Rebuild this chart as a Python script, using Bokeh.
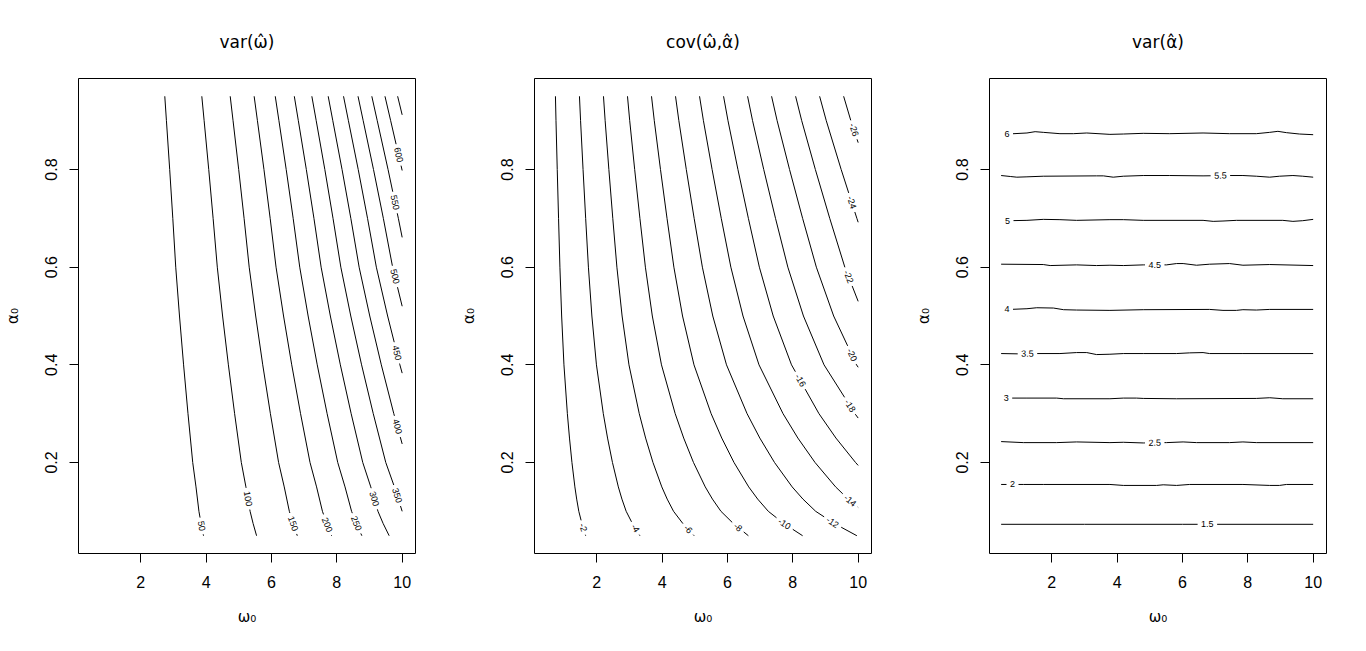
import math
from bokeh.plotting import figure
from bokeh.layouts import row
from bokeh.models import Range1d, FixedTicker
from bokeh.embed import file_html
from bokeh.resources import INLINE
from bokeh.core.properties import value

# ---------------- data ----------------
x_ticks = [2, 4, 6, 8, 10]
y_ticks = [0.2, 0.4, 0.6, 0.8]

titles = ["var(\u03c9\u0302)", "cov(\u03c9\u0302,\u03b1\u0302)", "var(\u03b1\u0302)"]
x_label = "\u03c9\u2080"
y_label = "\u03b1\u2080"

# Panel 1: var(omega-hat) contours (omega0 along alpha0)
vw_levels = ["50", "100", "150", "200", "250", "300", "350", "400", "450", "500", "550", "600", "650"]
vw_grid = [0.95, 0.9, 0.8, 0.7, 0.6, 0.5, 0.4, 0.3, 0.2, 0.15, 0.1, 0.075, 0.05]
vw_omega = [
    [2.735, 2.785, 2.885, 2.98, 3.07, 3.185, 3.31, 3.445, 3.59, 3.69, 3.78, 3.845, 3.92],
    [3.868, 3.939, 4.080, 4.214, 4.342, 4.504, 4.681, 4.872, 5.077, 5.218, 5.346, 5.438, 5.544],
    [4.737, 4.824, 4.997, 5.162, 5.318, 5.517, 5.733, 5.967, 6.218, 6.391, 6.547, 6.660, 6.790],
    [5.47, 5.57, 5.77, 5.96, 6.14, 6.37, 6.62, 6.89, 7.18, 7.38, 7.56, 7.69, 7.84],
    [6.116, 6.228, 6.451, 6.664, 6.865, 7.122, 7.401, 7.703, 8.028, 8.251, 8.452, 8.598, 8.766],
    [6.699, 6.822, 7.067, 7.300, 7.520, 7.802, 8.108, 8.439, 8.794, 9.039, 9.259, 9.418, 9.602],
    [7.236, 7.369, 7.633, 7.884, 8.123, 8.427, 8.758, 9.115, 9.498, 9.763, 10.0],
    [7.736, 7.877, 8.160, 8.429, 8.683, 9.008, 9.362, 9.744, 10.0],
    [8.205, 8.355, 8.655, 8.94, 9.21, 9.555, 9.93, 10.0],
    [8.649, 8.807, 9.123, 9.424, 9.708, 10.0],
    [9.071, 9.237, 9.568, 9.883, 10.0],
    [9.474, 9.648, 10.0],
    [9.861, 10.0],
]
vw_alpha = [
    vw_grid, vw_grid, vw_grid, vw_grid, vw_grid, vw_grid,
    vw_grid[:10] + [0.1],
    vw_grid[:8] + [0.238],
    vw_grid[:7] + [0.383],
    vw_grid[:5] + [0.52],
    vw_grid[:4] + [0.661],
    [0.95, 0.9, 0.798],
    [0.95, 0.912],
]
vw_lab_x = [3.79, 5.21, 6.62, 7.69, 8.55, 9.11, 9.83, 9.81, 9.81, 9.78, 9.75, 9.83, None]
vw_lab_y = [0.069, 0.125, 0.074, 0.072, 0.074, 0.125, 0.132, 0.273, 0.424, 0.581, 0.732, 0.829, None]

# Panel 2: cov(omega-hat, alpha-hat) contours
cv_levels = ["-2", "-4", "-6", "-8", "-10", "-12", "-14", "-16", "-18", "-20", "-22", "-24", "-26"]
cv_grid = [0.95, 0.9, 0.8, 0.7, 0.6, 0.5, 0.4, 0.3, 0.25, 0.2, 0.15, 0.125, 0.1, 0.075, 0.05]
cv_omega = [
    [0.735, 0.752, 0.79, 0.83, 0.872, 0.925, 0.995, 1.10, 1.165, 1.24, 1.33, 1.385, 1.45, 1.545, 1.66],
    [1.47, 1.504, 1.58, 1.66, 1.744, 1.85, 1.99, 2.2, 2.33, 2.48, 2.66, 2.77, 2.9, 3.09, 3.32],
    [2.205, 2.256, 2.37, 2.49, 2.616, 2.775, 2.985, 3.3, 3.495, 3.72, 3.99, 4.155, 4.35, 4.635, 4.98],
    [2.94, 3.008, 3.16, 3.32, 3.488, 3.7, 3.98, 4.4, 4.66, 4.96, 5.32, 5.54, 5.8, 6.18, 6.64],
    [3.675, 3.76, 3.95, 4.15, 4.36, 4.625, 4.975, 5.5, 5.825, 6.2, 6.65, 6.925, 7.25, 7.725, 8.3],
    [4.41, 4.512, 4.74, 4.98, 5.232, 5.55, 5.97, 6.6, 6.99, 7.44, 7.98, 8.31, 8.7, 9.27, 9.96],
    [5.145, 5.264, 5.53, 5.81, 6.104, 6.475, 6.965, 7.7, 8.155, 8.68, 9.31, 9.695, 10.0],
    [5.88, 6.016, 6.32, 6.64, 6.976, 7.4, 7.96, 8.8, 9.32, 9.92, 10.0],
    [6.615, 6.768, 7.11, 7.47, 7.848, 8.325, 8.955, 9.9, 10.0],
    [7.35, 7.52, 7.9, 8.3, 8.72, 9.25, 9.95, 10.0],
    [8.085, 8.272, 8.69, 9.13, 9.592, 10.0],
    [8.82, 9.024, 9.48, 9.96, 10.0],
    [9.555, 9.776, 10.0],
]
cv_alpha = [
    cv_grid, cv_grid, cv_grid, cv_grid, cv_grid, cv_grid,
    cv_grid[:12] + [0.108],
    cv_grid[:10] + [0.194],
    cv_grid[:8] + [0.291],
    cv_grid[:7] + [0.395],
    cv_grid[:5] + [0.53],
    cv_grid[:4] + [0.692],
    [0.95, 0.9, 0.855],
]
cv_lab_x = [1.50, 3.15, 4.78, 6.29, 7.74, 9.22, 9.755, 8.20, 9.72, 9.83, 9.72, 9.78, 9.81]
cv_lab_y = [0.065, 0.064, 0.0625, 0.065, 0.074, 0.078, 0.122, 0.367, 0.315, 0.421, 0.581, 0.732, 0.880]

# Panel 3: var(alpha-hat) contours (nearly flat, slightly wavy)
va_levels = ["6", "5.5", "5", "4.5", "4", "3.5", "3", "2.5", "2", "1.5"]
va_omega = [
    [0.45, 0.73, 1.24, 1.49, 1.74, 2.25, 2.66, 3.07, 3.78, 4.19, 4.80, 5.61, 6.63, 7.44, 8.26, 8.67, 8.92, 9.18, 9.58, 10.0],
    [0.45, 0.73, 0.93, 1.24, 1.74, 3.37, 3.58, 3.88, 4.19, 4.80, 5.61, 6.63, 7.44, 7.85, 8.26, 8.67, 8.97, 9.38, 9.68, 10.0],
    [0.45, 0.73, 1.24, 1.74, 2.25, 2.76, 3.78, 4.19, 4.80, 6.63, 6.94, 7.24, 7.65, 9.07, 9.38, 9.68, 10.0],
    [0.45, 1.74, 1.95, 2.76, 3.37, 3.78, 4.19, 4.80, 5.51, 5.82, 6.02, 6.43, 6.83, 7.44, 7.85, 8.67, 10.0],
    [0.45, 0.73, 1.24, 1.54, 2.05, 2.36, 2.76, 3.78, 4.80, 6.83, 7.24, 7.65, 7.85, 8.26, 8.67, 10.0],
    [0.45, 1.03, 1.49, 2.25, 2.76, 3.07, 3.37, 3.78, 4.19, 4.80, 5.82, 6.22, 6.63, 6.83, 7.85, 10.0],
    [0.45, 0.73, 1.24, 2.15, 2.36, 3.78, 4.19, 4.59, 4.80, 5.82, 8.26, 8.67, 9.07, 10.0],
    [0.45, 1.13, 2.15, 2.76, 3.78, 4.19, 4.80, 5.51, 6.02, 6.43, 7.44, 7.85, 8.26, 10.0],
    [0.45, 1.13, 1.74, 3.78, 4.19, 5.21, 5.41, 5.82, 6.22, 7.85, 8.67, 8.97, 9.18, 10.0],
    [0.45, 3.0, 6.0, 10.0],
]
va_alpha = [
    [0.873, 0.873, 0.8748, 0.8775, 0.8761, 0.8734, 0.8734, 0.8748, 0.872, 0.8727, 0.8741, 0.8734, 0.8748, 0.8734, 0.8734, 0.8761, 0.8782, 0.8755, 0.8727, 0.8713],
    [0.7877, 0.7857, 0.7843, 0.785, 0.7863, 0.787, 0.787, 0.7843, 0.7863, 0.7877, 0.7877, 0.787, 0.7877, 0.7877, 0.7863, 0.7843, 0.7863, 0.7877, 0.7863, 0.7843],
    [0.6952, 0.6952, 0.6959, 0.6979, 0.6973, 0.6959, 0.6973, 0.6973, 0.6959, 0.6959, 0.6938, 0.6945, 0.6959, 0.6959, 0.6938, 0.6952, 0.6979],
    [0.6061, 0.6054, 0.6033, 0.6047, 0.6033, 0.604, 0.6033, 0.6047, 0.6047, 0.6074, 0.6074, 0.604, 0.6061, 0.6074, 0.604, 0.6054, 0.6033],
    [0.5135, 0.5135, 0.5149, 0.5169, 0.5163, 0.5129, 0.5122, 0.5115, 0.5129, 0.5135, 0.5115, 0.5115, 0.5129, 0.5122, 0.5135, 0.5135],
    [0.4231, 0.4224, 0.4231, 0.4231, 0.4251, 0.4251, 0.421, 0.4217, 0.4231, 0.4231, 0.4231, 0.4245, 0.4251, 0.4231, 0.4231, 0.4231],
    [0.3319, 0.3319, 0.3319, 0.3319, 0.3305, 0.3305, 0.3319, 0.3319, 0.3312, 0.3305, 0.3312, 0.3326, 0.3305, 0.3305],
    [0.2428, 0.2407, 0.2407, 0.2421, 0.2407, 0.2414, 0.24, 0.2407, 0.2421, 0.2407, 0.2407, 0.2421, 0.2407, 0.2407],
    [0.155, 0.155, 0.155, 0.155, 0.153, 0.153, 0.1543, 0.153, 0.155, 0.155, 0.153, 0.153, 0.155, 0.155],
    [0.0734, 0.0734, 0.0734, 0.0734],
]
va_lab_x = [0.63, 7.16, 0.645, 5.15, 0.63, 1.256, 0.605, 5.15, 0.798, 6.762]
va_lab_y = [0.873, 0.786, 0.695, 0.6045, 0.5129, 0.4226, 0.331, 0.2405, 0.154, 0.0734]

# ---------------- layout / style ----------------
FRAME_W, FRAME_H = 337, 475
X0, X1 = 0.094, 10.408
Y0, Y1 = 0.0136, 0.9864
SX = FRAME_W / (X1 - X0)
SY = FRAME_H / (Y1 - Y0)
LAB_FS = 9.0
PAD = 3.5
FONT = "Liberation Sans"

CHAR_W = {"-": 0.333, ".": 0.278}


def text_w(t):
    return sum(CHAR_W.get(c, 0.556) for c in t) * LAB_FS


def contour_pieces(xs, ys, text, lx, ly):
    pts = [(x * SX, y * SY) for x, y in zip(xs, ys)]
    cum = [0.0]
    for i in range(1, len(pts)):
        cum.append(cum[-1] + math.dist(pts[i - 1], pts[i]))
    total = cum[-1]
    keep = [(0.0, total)]
    label = None
    if text is not None and lx is not None:
        q = (lx * SX, ly * SY)
        best = None
        for i in range(len(pts) - 1):
            (x1, y1), (x2, y2) = pts[i], pts[i + 1]
            dx, dy = x2 - x1, y2 - y1
            l2 = dx * dx + dy * dy
            t = 0.0 if l2 == 0 else max(0.0, min(1.0, ((q[0] - x1) * dx + (q[1] - y1) * dy) / l2))
            px, py = x1 + t * dx, y1 + t * dy
            d = math.hypot(q[0] - px, q[1] - py)
            if best is None or d < best[0]:
                best = (d, i, t, px, py, dx, dy)
        _, i, t, px, py, dx, dy = best
        s = cum[i] + t * math.hypot(dx, dy)
        half = text_w(text) / 2 + PAD
        g0, g1 = s - half, s + half
        new = []
        for a, b in keep:
            if g1 <= a or g0 >= b:
                new.append((a, b))
                continue
            if g0 > a:
                new.append((a, g0))
            if g1 < b:
                new.append((g1, b))
        keep = new
        ang = math.atan2(dy, dx)
        if ang > math.pi / 2:
            ang -= math.pi
        elif ang <= -math.pi / 2:
            ang += math.pi
        label = (px / SX, py / SY, text, ang)

    def point_at(s):
        for i in range(len(pts) - 1):
            if cum[i + 1] >= s:
                seg = cum[i + 1] - cum[i]
                t = (s - cum[i]) / seg if seg > 0 else 0.0
                return (pts[i][0] + t * (pts[i + 1][0] - pts[i][0]),
                        pts[i][1] + t * (pts[i + 1][1] - pts[i][1]))
        return pts[-1]

    pieces = []
    for a, b in keep:
        if b - a < 0.5:
            continue
        seg = [point_at(a)] + [pts[i] for i in range(len(pts)) if a < cum[i] < b] + [point_at(b)]
        pieces.append(([p[0] / SX for p in seg], [p[1] / SY for p in seg]))
    return pieces, label


def make_fig(title, left, right):
    p = figure(frame_width=FRAME_W, frame_height=FRAME_H,
               x_range=Range1d(X0, X1), y_range=Range1d(Y0, Y1),
               output_backend="svg", toolbar_location=None,
               min_border_left=left, min_border_right=right,
               min_border_top=78, min_border_bottom=80,
               background_fill_color="white", border_fill_color="white")
    p.title.text = title
    p.title.align = "center"
    p.title.text_font = "DejaVu Sans"
    p.title.text_font_size = "17px"
    p.title.text_font_style = "normal"
    p.title.text_color = "black"
    p.title.standoff = 53
    p.grid.visible = False
    p.outline_line_color = "black"
    p.outline_line_width = 1
    p.outline_line_alpha = 1
    p.xaxis.ticker = FixedTicker(ticks=x_ticks)
    p.yaxis.ticker = FixedTicker(ticks=y_ticks)
    p.xaxis.axis_label = x_label
    p.yaxis.axis_label = y_label
    for ax in p.axis:
        ax.axis_line_color = None
        ax.major_tick_in = 0
        ax.major_tick_out = 9
        ax.major_tick_line_color = "black"
        ax.minor_tick_line_color = None
        ax.major_label_text_font = FONT
        ax.major_label_text_font_size = "16px"
        ax.major_label_text_color = "black"
        ax.axis_label_text_font = "DejaVu Sans"
        ax.axis_label_text_font_size = "15px"
        ax.axis_label_text_font_style = "normal"
        ax.axis_label_text_color = "black"
    p.xaxis.major_label_standoff = 13
    p.xaxis.axis_label_standoff = 17
    p.yaxis.major_label_orientation = "vertical"
    p.yaxis.major_label_standoff = 13
    p.yaxis.axis_label_standoff = 20
    return p


def draw(p, levels, omegas, alphas, lab_x, lab_y):
    mx, my = [], []
    tx, ty, tt, ta = [], [], [], []
    for lev, xs, ys, lx, ly in zip(levels, omegas, alphas, lab_x, lab_y):
        pieces, lab = contour_pieces(xs, ys, lev if lx is not None else None, lx, ly)
        for a, b in pieces:
            mx.append(a)
            my.append(b)
        if lab is not None:
            tx.append(lab[0]); ty.append(lab[1]); tt.append(lab[2]); ta.append(lab[3])
    p.multi_line(xs=mx, ys=my, line_color="black", line_width=1)
    p.text(x=tx, y=ty, text=tt, angle=ta, text_font=value(FONT), text_font_size=value("9px"),
           text_align="center", text_baseline="middle", text_color="black")


p1 = make_fig(titles[0], left=78, right=39)
draw(p1, vw_levels, vw_omega, vw_alpha, vw_lab_x, vw_lab_y)
p2 = make_fig(titles[1], left=80, right=38)
draw(p2, cv_levels, cv_omega, cv_alpha, cv_lab_x, cv_lab_y)
p3 = make_fig(titles[2], left=80, right=20)
draw(p3, va_levels, va_omega, va_alpha, va_lab_x, va_lab_y)

layout = row(p1, p2, p3)
open("out.html", "w").write(file_html(layout, INLINE))
